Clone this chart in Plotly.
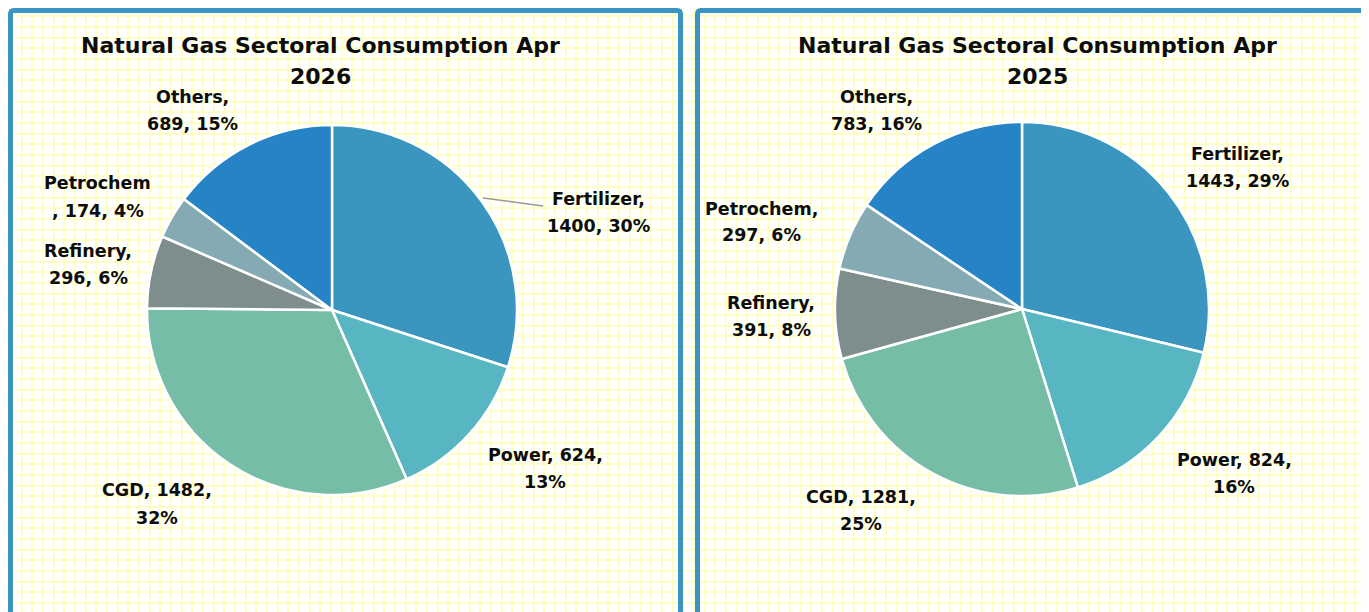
import plotly.graph_objects as go

sectors = ["Fertilizer", "Power", "CGD", "Refinery", "Petrochem", "Others"]
colors = ["#3A96BF", "#58B6C2", "#75BDA6", "#7E8E8C", "#86AAB3", "#2683C6"]
values_2026 = [1400, 624, 1482, 296, 174, 689]
pct_2026 = [30, 13, 32, 6, 4, 15]
values_2025 = [1443, 824, 1281, 391, 297, 783]
pct_2025 = [29, 16, 25, 8, 6, 16]
titles = ["Natural Gas Sectoral Consumption Apr<br>2026",
          "Natural Gas Sectoral Consumption Apr<br>2025"]

# label line-break style: 0 = "Name,<br>v, p%", 1 = "Name, v,<br>p%", 2 = "Name<br>, v, p%"
breaks_2026 = [0, 1, 1, 0, 2, 0]
breaks_2025 = [0, 1, 1, 0, 0, 0]

# label anchor positions in page pixels (x, y of text centre)
lab_pos_2026 = [(598, 212), (545, 468), (157, 504), (88, 264), (98, 197), (192, 110)]
lab_pos_2025 = [(1237, 167), (1234, 473), (861, 510), (771, 316), (762, 222), (876, 110)]

OFF = 8  # page body margin
W, H = 1369 - OFF, 612 - OFF
FONT = "DejaVu Sans"

def label_text(name, v, p, style):
    if style == 0:
        return f"{name},<br>{v}, {p}%"
    if style == 1:
        return f"{name}, {v},<br>{p}%"
    return f"{name}<br>, {v}, {p}%"

def px(x):
    return (x - OFF) / W

def py(y):
    return (H + OFF - y) / H

fig = go.Figure()

fig.add_trace(go.Scatter(x=[OFF, OFF + W], y=[OFF, OFF + H], mode="markers",
                         marker=dict(opacity=0), hoverinfo="skip", showlegend=False))

def px_dom(cx, cy, r):
    return dict(x=[px(cx - r), px(cx + r)], y=[py(cy + r), py(cy - r)])

for vals, dom in [(values_2026, px_dom(332, 310, 185)), (values_2025, px_dom(1022, 309, 187))]:
    fig.add_trace(go.Pie(
        labels=sectors, values=vals, sort=False, direction="clockwise", rotation=0,
        marker=dict(colors=colors, line=dict(color="white", width=2.5)),
        textinfo="none", hoverinfo="label+value+percent", domain=dom, showlegend=False,
    ))

annotations = []

def add_lines(text, x, y, gap, size):
    lines = text.split("<br>")
    n = len(lines)
    for i, ln in enumerate(lines):
        yy = y + (i - (n - 1) / 2) * gap
        annotations.append(dict(text="<b>" + ln + "</b>", x=px(x), y=py(yy), xref="paper", yref="paper",
                                showarrow=False, font=dict(family=FONT, size=size, color="#0d0d0d"),
                                xanchor="center", yanchor="middle"))

for title, cx in zip(titles, [320, 1037]):
    add_lines(title, cx, 61, 32, 22)
for vals, pcts, brk, pos in [(values_2026, pct_2026, breaks_2026, lab_pos_2026),
                             (values_2025, pct_2025, breaks_2025, lab_pos_2025)]:
    for name, v, p, b, (x, y) in zip(sectors, vals, pcts, brk, pos):
        add_lines(label_text(name, v, p, b), x, y, 27, 17.5)

border = "#3A93C0"
shapes = [
    dict(type="path", xref="x", yref="y",
         path="M 10.5 640 L 10.5 14 Q 10.5 10.5 14 10.5 L 677 10.5 Q 680.5 10.5 680.5 14 L 680.5 640",
         line=dict(color=border, width=5), layer="above"),
    dict(type="path", xref="x", yref="y",
         path="M 697.5 640 L 697.5 14 Q 697.5 10.5 701 10.5 L 1400 10.5",
         line=dict(color=border, width=5), layer="above"),
    dict(type="line", xref="x", yref="y", x0=483, y0=198, x1=543, y1=206,
         line=dict(color="#9A9A9A", width=1.5), layer="above"),
]

fig.update_layout(
    width=W, height=H, margin=dict(l=0, r=0, t=0, b=0),
    paper_bgcolor="white", plot_bgcolor="white",
    annotations=annotations, shapes=shapes,
    xaxis=dict(range=[OFF, OFF + W], domain=[0, 1], showticklabels=False, zeroline=False,
               showgrid=True, gridcolor="#FFFFC4", gridwidth=2, tick0=0.3, dtick=10.67,
               fixedrange=True, showline=False),
    yaxis=dict(range=[OFF + H, OFF], domain=[0, 1], showticklabels=False, zeroline=False,
               showgrid=True, gridcolor="#FFFFC4", gridwidth=2, tick0=5.5, dtick=10.67,
               fixedrange=True, showline=False),
    hovermode=False,
)

fig.write_html("out.html")
